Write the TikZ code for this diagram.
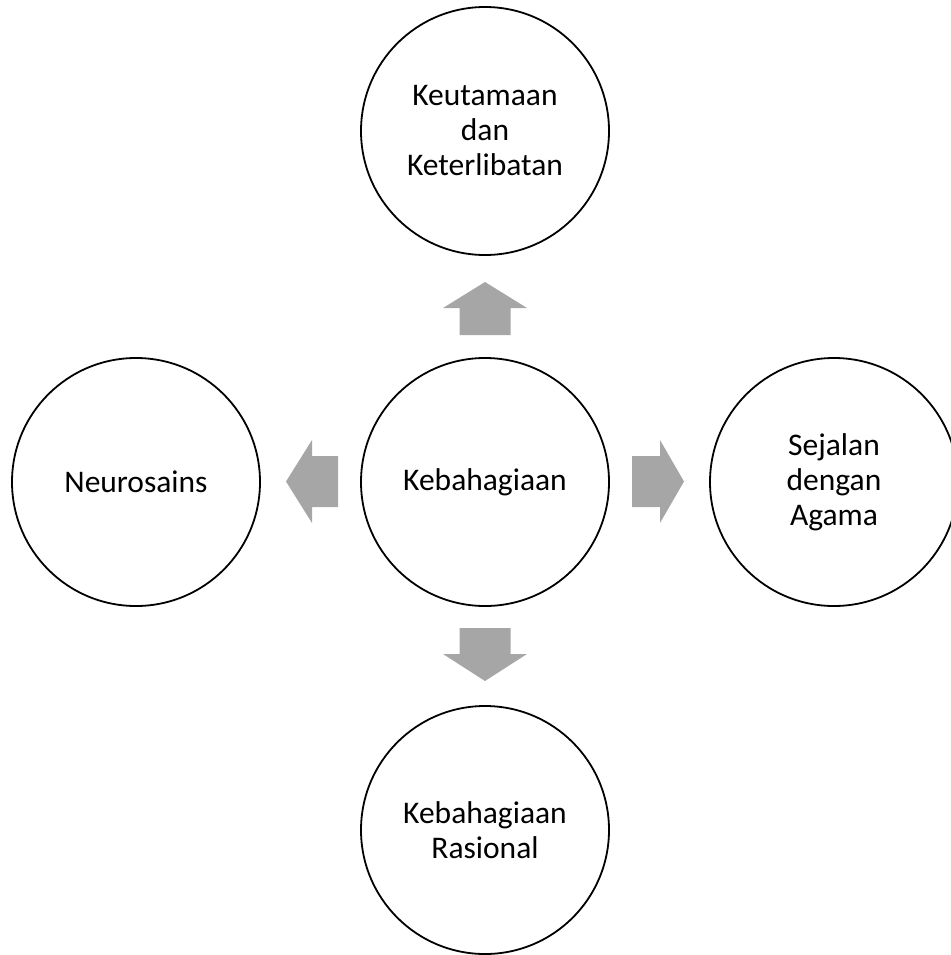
\documentclass[tikz,border=0pt]{standalone}
\usepackage{fontspec}
\setmainfont{Carlito}
\begin{document}
\begin{tikzpicture}[x=1pt,y=-1pt,
  bubble/.style={draw=black,line width=1.8pt,circle,minimum size=248pt,inner sep=0pt,
    align=center,font=\fontsize{31.5}{35}\selectfont},
  blockarrow/.style={fill=arrowgray,draw=none}]
\definecolor{arrowgray}{HTML}{A6A6A6}
\useasboundingbox (0,0) rectangle (950,955);
\node[bubble] (c) at (485,482) {Kebahagiaan};
\node[bubble] (t) at (485,131) {Keutamaan\\dan\\Keterlibatan};
\node[bubble] (l) at (136,482) {Neurosains};
\node[bubble] (r) at (834,482) {Sejalan\\dengan\\Agama};
\node[bubble] (b) at (485,830) {Kebahagiaan\\Rasional};
% block arrows
\fill[blockarrow] (459.5,335) -- (459.5,308) -- (443,308) -- (485,282) -- (527,308) -- (510.5,308) -- (510.5,335) -- cycle;
\fill[blockarrow] (459.5,628) -- (510.5,628) -- (510.5,654) -- (527,654) -- (485,681) -- (443,654) -- (459.5,654) -- cycle;
\fill[blockarrow] (338,456) -- (312,456) -- (312,440) -- (286,481.5) -- (312,523) -- (312,507) -- (338,507) -- cycle;
\fill[blockarrow] (632,456) -- (660,456) -- (660,440) -- (684,481.5) -- (660,523) -- (660,507) -- (632,507) -- cycle;
\end{tikzpicture}
\end{document}
